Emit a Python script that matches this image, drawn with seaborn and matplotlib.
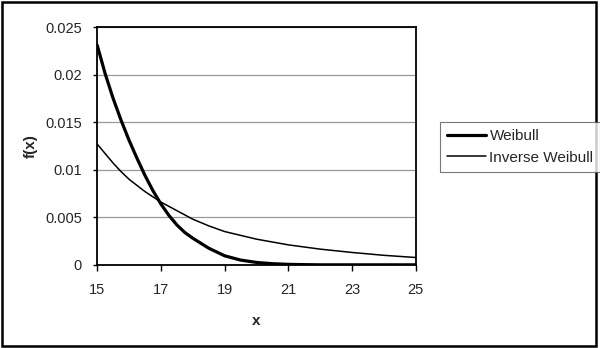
import matplotlib
matplotlib.use("Agg")
import matplotlib.pyplot as plt
import seaborn as sns
import pandas as pd
from matplotlib.patches import Rectangle

x_weibull = [15, 15.25, 15.5, 15.75, 16, 16.25, 16.5, 16.75, 17, 17.25, 17.5, 17.75,
             18, 18.5, 19, 19.5, 20, 20.5, 21, 21.5, 22, 23, 24, 25]
y_weibull = [0.0231, 0.0201, 0.0175, 0.0152, 0.0131, 0.0112, 0.0094, 0.0078, 0.0064,
             0.0052, 0.0042, 0.0034, 0.0028, 0.00175, 0.00095, 0.0005, 0.00025,
             0.00012, 0.00005, 0.00002, 0.0, 0.0, 0.0, 0.0]

x_inverse = [15, 15.25, 15.5, 15.75, 16, 16.5, 17, 17.5, 18, 18.5, 19, 19.5, 20,
             21, 22, 23, 24, 25]
y_inverse = [0.0127, 0.0117, 0.0107, 0.0098, 0.0090, 0.0077, 0.0066, 0.0057, 0.0048,
             0.0041, 0.0035, 0.0031, 0.0027, 0.0021, 0.00165, 0.0013, 0.0010, 0.00077]

series_names = ["Weibull", "Inverse Weibull"]
x_ticks = [15, 17, 19, 21, 23, 25]
y_ticks = [0, 0.005, 0.01, 0.015, 0.02, 0.025]
y_tick_labels = ["0", "0.005", "0.01", "0.015", "0.02", "0.025"]

df = pd.concat([
    pd.DataFrame({"x": x_weibull, "f": y_weibull, "series": series_names[0]}),
    pd.DataFrame({"x": x_inverse, "f": y_inverse, "series": series_names[1]}),
])

sns.set_style("white")
plt.rcParams["font.family"] = ["Liberation Sans", "DejaVu Sans"]

fig = plt.figure(figsize=(6, 3.48), dpi=100)
ax = fig.add_axes([0.162, 0.239, 0.531, 0.683])

sns.lineplot(data=df, x="x", y="f", hue="series", size="series",
             sizes={"Weibull": 2.3, "Inverse Weibull": 1.1},
             palette={"Weibull": "black", "Inverse Weibull": "black"},
             ax=ax, legend=True)

ax.set_xlim(15, 25)
ax.set_ylim(0, 0.025)
ax.set_xticks(x_ticks)
ax.set_xticklabels([str(t) for t in x_ticks], fontsize=10.5)
ax.set_yticks(y_ticks)
ax.set_yticklabels(y_tick_labels, fontsize=10.5)
ax.yaxis.grid(True, color="#999999", linewidth=0.9)
ax.xaxis.grid(False)
ax.tick_params(axis="x", direction="out", length=4, width=1, color="black",
               bottom=True, pad=9)
ax.tick_params(axis="y", direction="out", length=3, width=1, color="black",
               left=True, pad=8)
for s in ax.spines.values():
    s.set_color("black")
    s.set_linewidth(1.3)

ax.set_xlabel("x", fontsize=11, fontweight="bold", labelpad=12)
ax.set_ylabel("f(x)", fontsize=11, fontweight="bold", labelpad=5)

handles, labels = ax.get_legend_handles_labels()
ax.get_legend().remove()
leg = fig.legend(handles, labels, loc="upper left", bbox_to_anchor=(0.733, 0.649),
                 bbox_transform=fig.transFigure, borderaxespad=0, fontsize=11,
                 frameon=True, fancybox=False, handlelength=2.6, handletextpad=0.2,
                 borderpad=0.45, labelspacing=0.5)
leg.get_frame().set_edgecolor("#555555")
leg.get_frame().set_linewidth(0.8)

fig.patches.append(Rectangle((0.004, 0.006), 0.99, 0.988, transform=fig.transFigure,
                             fill=False, edgecolor="black", linewidth=1.8))

fig.savefig("out.png", dpi=100)
